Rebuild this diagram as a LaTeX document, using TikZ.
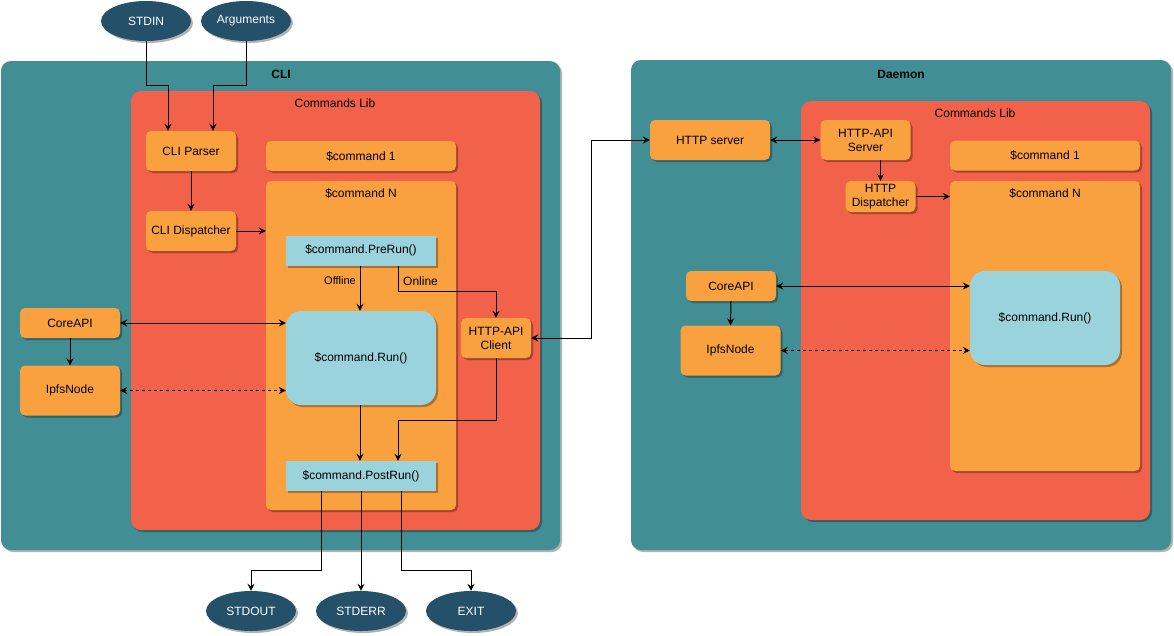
\documentclass[tikz,border=0pt]{standalone}
\usepackage{fontspec}
\setmainfont{Liberation Sans}
\usetikzlibrary{arrows.meta,shapes.geometric,shadows,calc}
\definecolor{tealc}{HTML}{418E94}
\definecolor{redc}{HTML}{F26149}
\definecolor{orangec}{HTML}{F9A03F}
\definecolor{bluec}{HTML}{9AD3DB}
\definecolor{navyc}{HTML}{24506A}
\newcommand{\fsz}[1]{\fontsize{#1}{14}\selectfont}
\tikzset{
  shadowed/.style={drop shadow={shadow xshift=2pt,shadow yshift=-2pt,opacity=0.3,fill=black}},
  sz/.style 2 args={minimum width=#1pt,minimum height=#2pt},
  container/.style={fill=tealc,rounded corners=10pt,draw=none,shadowed,inner sep=0pt},
  libbox/.style={fill=redc,rounded corners=10pt,draw=none,shadowed,inner sep=0pt},
  obox/.style={fill=orangec,rounded corners=5pt,draw=none,shadowed,inner sep=0pt,font=\fsz{12},align=center},
  bbox/.style={fill=bluec,draw=none,shadowed,inner sep=0pt,font=\fsz{12},align=center},
  oval/.style={ellipse,fill=navyc,draw=none,shadowed,inner sep=0pt,text=white,font=\fsz{12},minimum width=90pt,minimum height=40pt},
  title/.style={font=\fsz{12}\bfseries,inner sep=0pt},
  sublabel/.style={font=\fsz{12},inner sep=0pt},
  conn/.style={draw=black,line width=1pt,-{Stealth[length=7pt,width=7pt,inset=2.5pt]}},
  biconn/.style={draw=black,line width=1pt,{Stealth[length=7pt,width=7pt,inset=2.5pt]}-{Stealth[length=7pt,width=7pt,inset=2.5pt]}},
  dashedline/.style={dash pattern=on 3pt off 3pt},
}
\begin{document}
\begin{tikzpicture}[x=1pt,y=-1pt]
\useasboundingbox (0,0) rectangle (1174,635);
% ---------------- CLI ----------------
\node[container,sz={559}{489}] (cli) at (280.5,305.5) {};
\node[title] (clititle) at (281,74) {CLI};
\node[libbox,sz={409}{439}] (clilib) at (335.5,310.5) {};
\node[sublabel] (clilibtitle) at (335,103) {Commands Lib};

\node[oval] (stdin) at (146,21) {STDIN};
\node[oval] (args) at (246,21) {Arguments};

\node[obox,sz={90}{40}] (parser) at (191,151) {CLI Parser};
\node[obox,sz={90}{40}] (dispatcher) at (191,231) {CLI Dispatcher};
\node[obox,sz={190}{30}] (cmd1) at (361,156) {\$command 1};
\node[obox,sz={190}{329}] (cmdN) at (361,345.5) {};
\node[sublabel] (cmdNtitle) at (361,193) {\$command N};
\node[bbox,sz={150}{30}] (prerun) at (361,250.5) {\$command.PreRun()};
\node[bbox,rounded corners=15pt,sz={150}{94}] (run) at (361,358) {\$command.Run()};
\node[bbox,sz={150}{30}] (postrun) at (361,476) {\$command.PostRun()};
\node[obox,sz={70}{40}] (client) at (496,338) {HTTP-API\\Client};
\node[obox,sz={100}{30}] (coreapi) at (70,323) {CoreAPI};
\node[obox,sz={100}{50}] (ipfs) at (70,390.5) {IpfsNode};

\node[oval] (stdout) at (251,611) {STDOUT};
\node[oval] (stderr) at (361,611) {STDERR};
\node[oval] (exit) at (471,611) {EXIT};

% ---------------- Daemon ----------------
\node[container,sz={540}{490}] (daemon) at (901,305) {};
\node[title] (daemontitle) at (901,74) {Daemon};
\node[libbox,sz={349}{419}] (dlib) at (975.5,310.5) {};
\node[sublabel] (dlibtitle) at (975,113) {Commands Lib};

\node[obox,sz={120}{40}] (httpserver) at (710,140) {HTTP server};
\node[obox,sz={90}{40}] (apiserver) at (865.5,140) {HTTP-API\\Server};
\node[obox,sz={190}{30}] (dcmd1) at (1045,155.5) {\$command 1};
\node[obox,sz={70}{31}] (disp) at (880.5,196.5) {HTTP\\Dispatcher};
\node[obox,sz={190}{290}] (dcmdN) at (1045,326) {};
\node[sublabel] (dcmdNtitle) at (1045,193) {\$command N};
\node[bbox,rounded corners=15pt,sz={150}{94}] (drun) at (1045,318) {\$command.Run()};
\node[obox,sz={90}{30}] (dcore) at (731,286) {CoreAPI};
\node[obox,sz={100}{50}] (dipfs) at (730.5,350.5) {IpfsNode};

% ---------------- CLI connectors ----------------
\draw[conn] (stdin.south) -- ++(0,44) -| ($(parser.north)+(-23,0)$);
\draw[conn] (args.south) -- ++(0,44) -| ($(parser.north)+(22,0)$);
\draw[conn] (parser.south) -- (dispatcher.north);
\draw[conn] (dispatcher.east) -- (dispatcher.east -| cmdN.west);
\draw[conn] ($(prerun.south)+(-1,0)$) -- ($(run.north)+(-1,0)$);
\node[font=\fsz{11},inner sep=0pt,anchor=east] (offline) at (356,281) {Offline};
\draw[conn] ($(prerun.south)+(37,0)$) -- ++(0,26) -| (client.north);
\node[font=\fsz{12},inner sep=0pt,anchor=west] (online) at (403,281) {Online};
\draw[biconn] (coreapi.east) -- (coreapi.east -| run.west);
\draw[conn] (coreapi.south) -- (ipfs.north);
\draw[biconn,dashedline] (ipfs.east) -- (ipfs.east -| run.west);
\draw[conn] ($(run.south)+(-1,0)$) -- ($(postrun.north)+(-1,0)$);
\draw[conn] (client.south) -- ++(0,62) -| ($(postrun.north)+(37,0)$);
\draw[conn] ($(postrun.south)+(-40,0)$) -- ++(0,79) -| (stdout.north);
\draw[conn] (postrun.south) -- (stderr.north);
\draw[conn] ($(postrun.south)+(40,0)$) -- ++(0,79) -| (exit.north);
\draw[biconn] (client.east) -- ++(60,0) |- (httpserver.west);

% ---------------- Daemon connectors ----------------
\draw[biconn] (httpserver.east) -- (apiserver.west);
\draw[conn] (apiserver.south -| disp.north) -- (disp.north);
\draw[conn] (disp.east) -- (disp.east -| dcmdN.west);
\draw[biconn] (dcore.east) -- (dcore.east -| drun.west);
\draw[conn] (dcore.south) -- (dipfs.north);
\draw[biconn,dashedline] (dipfs.east) -- (dipfs.east -| drun.west);
\end{tikzpicture}
\end{document}
